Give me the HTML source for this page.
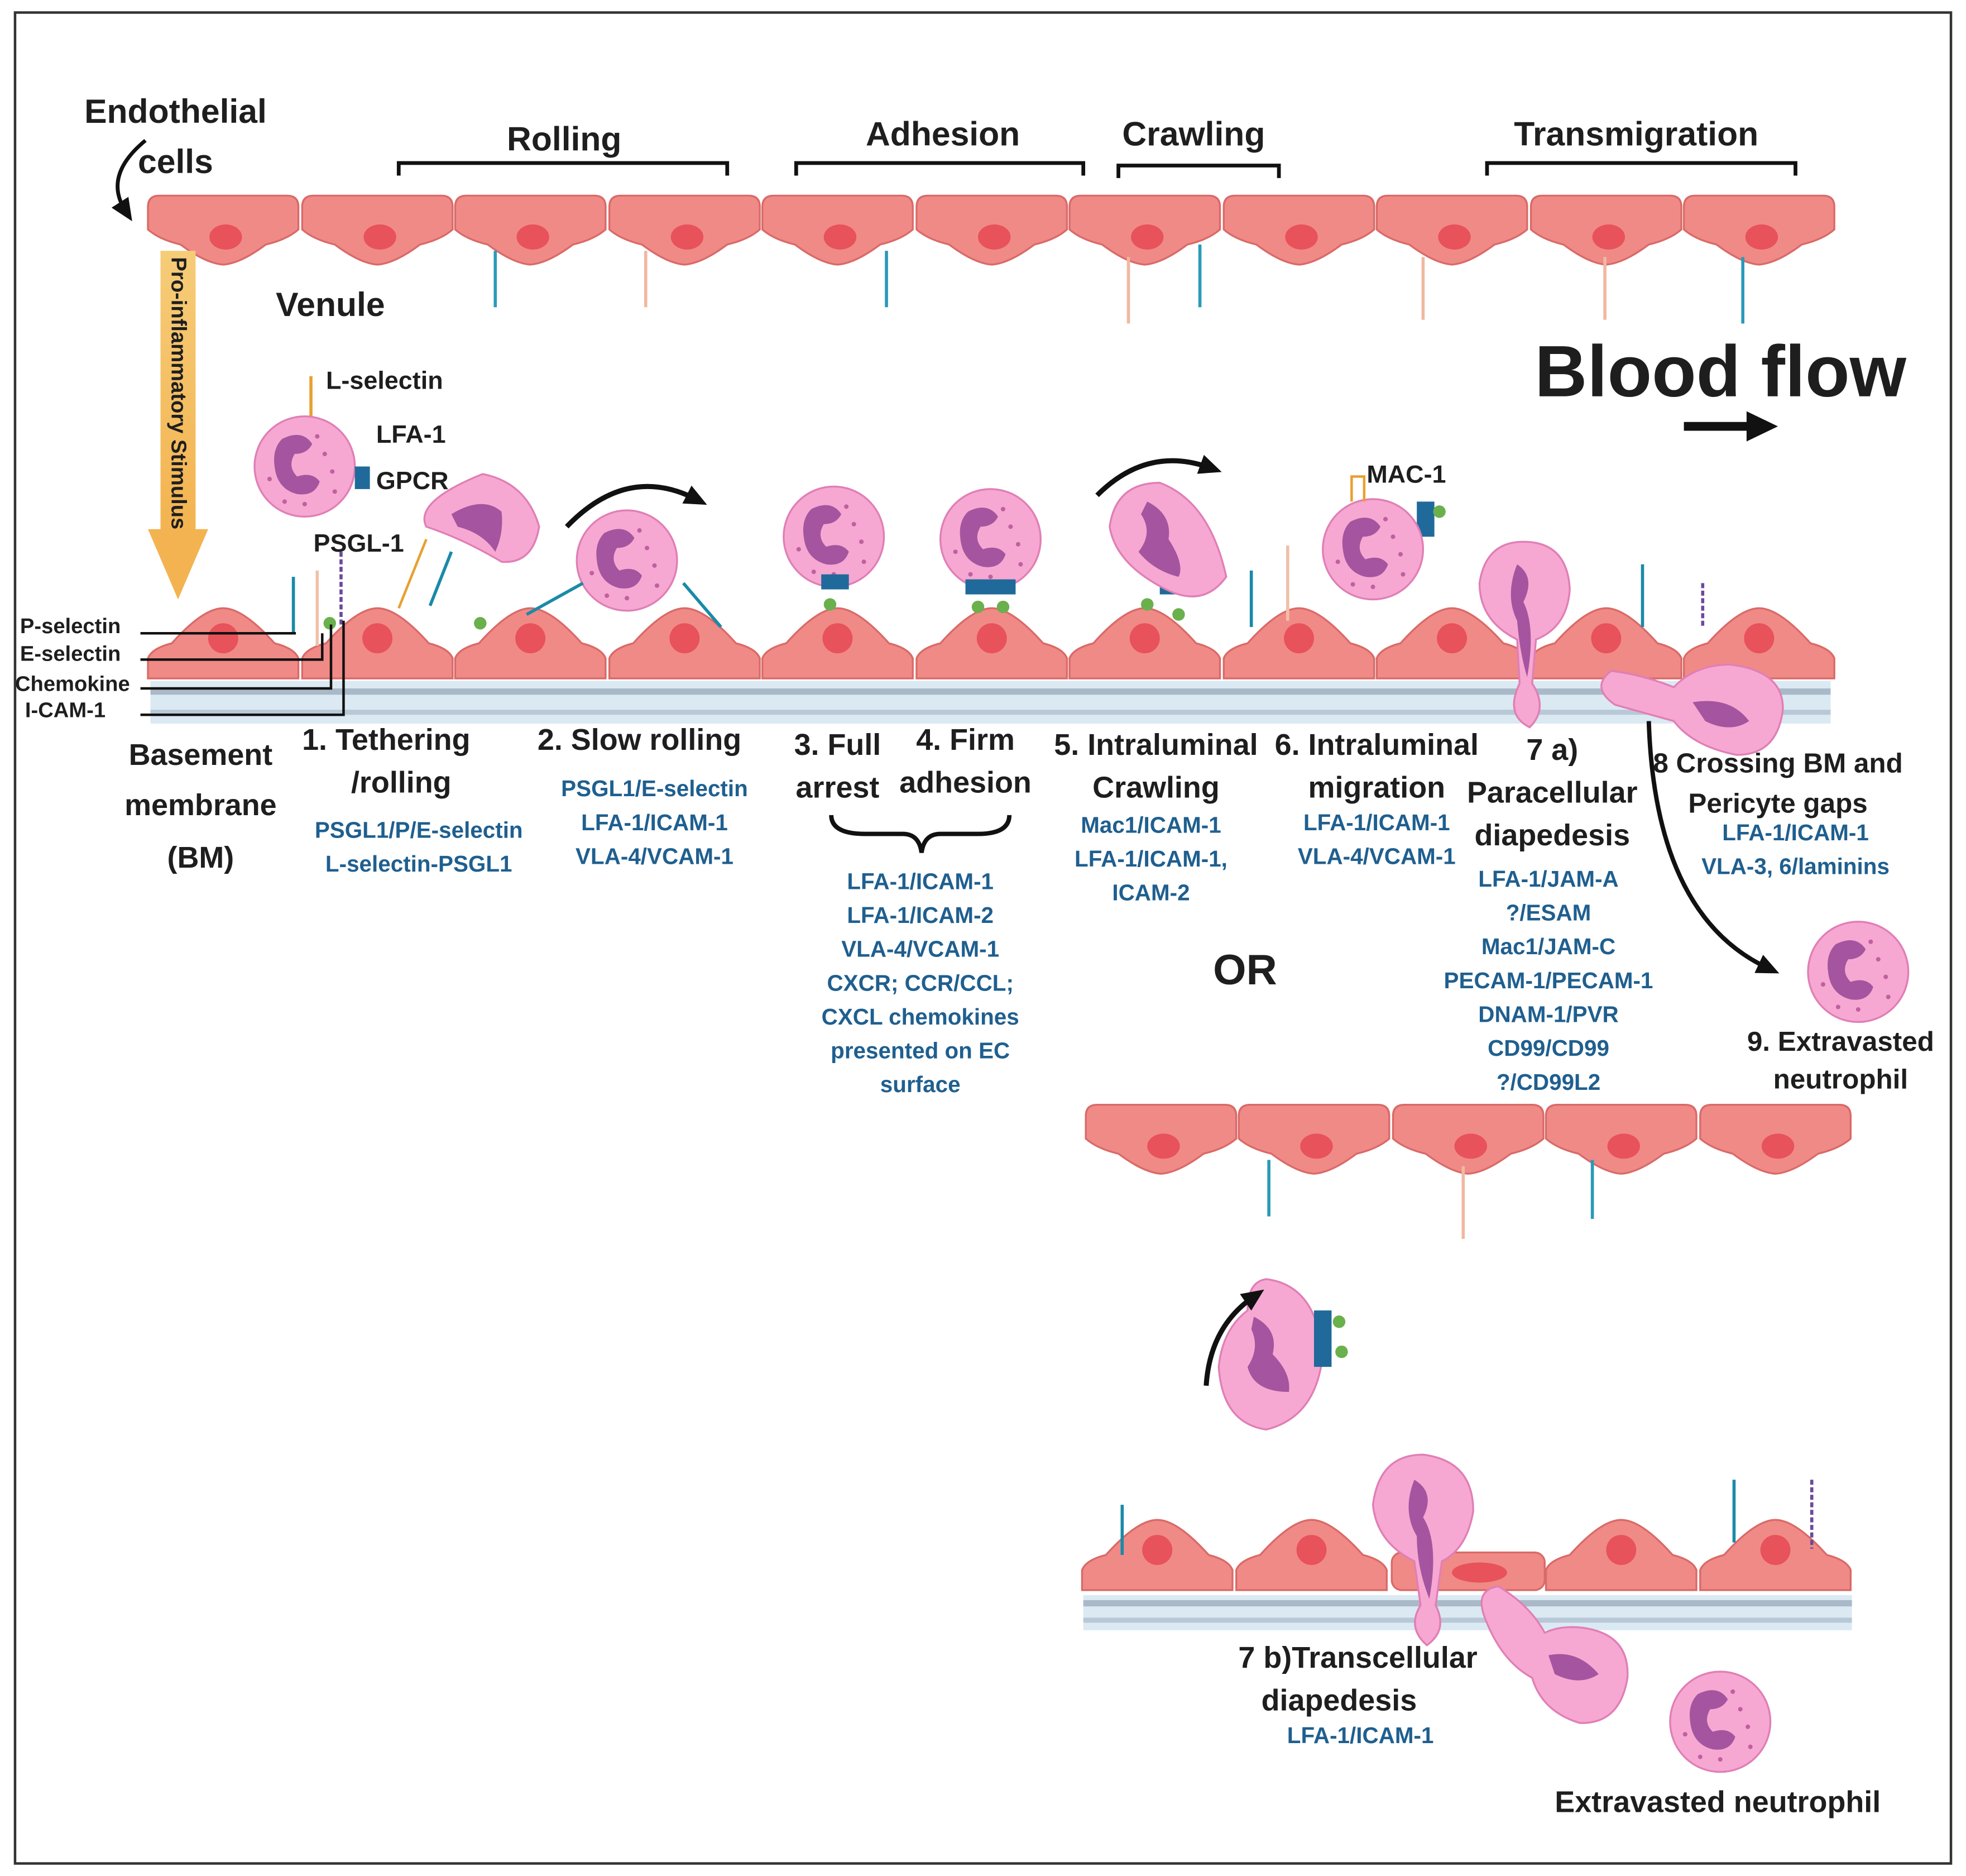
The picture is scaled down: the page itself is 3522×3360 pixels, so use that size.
<!DOCTYPE html>
<html><head><meta charset="utf-8"><style>
html,body{margin:0;padding:0;background:#fff}
svg{display:block}
text{font-family:"Liberation Sans",Arial,sans-serif;font-weight:bold}
.k{fill:#1e1e1e}
.b{fill:#1f5f8f;font-size:18px}
</style></head><body>
<svg width="3522" height="3360" viewBox="0 0 1568 1496" preserveAspectRatio="none" xmlns="http://www.w3.org/2000/svg">
<defs>
<symbol id="tc" overflow="visible">
<path d="M1,10 Q1,1 10,1 H112 Q121,1 121,10 V28 Q112,36 95,40 Q75,55 61,56 Q47,55 27,40 Q10,36 1,28 Z" fill="#f08a87" stroke="#d96a68" stroke-width="1.5"/>
<ellipse cx="63" cy="34" rx="13" ry="10" fill="#e8525a"/>
</symbol>
<symbol id="bc" overflow="visible">
<path d="M1,58 V42 Q4,34 20,30 Q45,2 61,2 Q77,2 102,30 Q118,34 121,42 V58 Z" fill="#f08a87" stroke="#d96a68" stroke-width="1.5"/>
<circle cx="61" cy="26" r="12" fill="#e8525a"/>
</symbol>
<symbol id="ne" overflow="visible">
<circle cx="0" cy="0" r="40" fill="#f6a8d2" stroke="#e07fb5" stroke-width="1.5"/>
<path d="M-18,-22 Q-2,-30 6,-18 Q2,-10 -8,-10 Q-14,0 -6,8 Q6,4 12,12 Q8,24 -6,22 Q-22,18 -24,0 Q-26,-14 -18,-22Z" fill="#a5559f"/>
<g fill="#c0609f"><circle cx="16" cy="-10" r="1.8"/><circle cx="22" cy="4" r="1.8"/><circle cx="10" cy="-24" r="1.8"/><circle cx="-28" cy="10" r="1.8"/><circle cx="0" cy="30" r="1.8"/><circle cx="24" cy="20" r="1.8"/><circle cx="-16" cy="28" r="1.8"/></g>
</symbol>
<marker id="ah" markerUnits="userSpaceOnUse" markerWidth="20" markerHeight="20" refX="8" refY="10" orient="auto"><path d="M0,2 L18,10 L0,18 Z" fill="#111"/></marker>
</defs>

<rect x="12" y="10" width="1544" height="1476" fill="none" stroke="#333" stroke-width="2"/>

<g>
<use href="#tc" x="117" y="155"/><use href="#tc" x="240" y="155"/><use href="#tc" x="362" y="155"/><use href="#tc" x="485" y="155"/><use href="#tc" x="607" y="155"/><use href="#tc" x="730" y="155"/><use href="#tc" x="852" y="155"/><use href="#tc" x="975" y="155"/><use href="#tc" x="1097" y="155"/><use href="#tc" x="1220" y="155"/><use href="#tc" x="1342" y="155"/>
</g>
<g stroke-width="2.5">
<line x1="395" y1="200" x2="395" y2="245" stroke="#2a9ab8"/><line x1="515" y1="200" x2="515" y2="245" stroke="#f0b8a0"/><line x1="707" y1="200" x2="707" y2="245" stroke="#2a9ab8"/><line x1="900" y1="205" x2="900" y2="258" stroke="#f0b8a0"/><line x1="957" y1="195" x2="957" y2="245" stroke="#2a9ab8"/><line x1="1135" y1="205" x2="1135" y2="255" stroke="#f0b8a0"/><line x1="1280" y1="205" x2="1280" y2="255" stroke="#f0b8a0"/><line x1="1390" y1="205" x2="1390" y2="258" stroke="#2a9ab8"/>
</g>

<text x="140" y="98" font-size="27" class="k" text-anchor="middle">Endothelial</text>
<text x="140" y="138" font-size="27" class="k" text-anchor="middle">cells</text>
<path d="M116,112 Q82,140 100,168" fill="none" stroke="#111" stroke-width="3" marker-end="url(#ah)"/>
<text x="450" y="120" font-size="27" class="k" text-anchor="middle">Rolling</text>
<text x="752" y="116" font-size="27" class="k" text-anchor="middle">Adhesion</text>
<text x="952" y="116" font-size="27" class="k" text-anchor="middle">Crawling</text>
<text x="1305" y="116" font-size="27" class="k" text-anchor="middle">Transmigration</text>
<g fill="none" stroke="#111" stroke-width="3">
<path d="M318,140 V130 H580 V140"/><path d="M635,140 V130 H864 V140"/><path d="M892,142 V132 H1020 V142"/><path d="M1186,140 V130 H1432 V140"/>
</g>
<text x="220" y="252" font-size="27" class="k">Venule</text>
<text x="1224" y="316" font-size="58" class="k">Blood flow</text>
<line x1="1343" y1="340" x2="1395" y2="340" stroke="#111" stroke-width="7"/>
<path d="M1393,328 L1418,340 L1393,352Z" fill="#111"/>

<defs><linearGradient id="yg" x1="0" y1="0" x2="0" y2="1"><stop offset="0" stop-color="#f6cc78"/><stop offset="1" stop-color="#f3b350"/></linearGradient></defs>
<rect x="128" y="200" width="28" height="225" fill="url(#yg)"/>
<path d="M118,422 L166,422 L142,478Z" fill="#f3b350"/>
<text transform="translate(137,205) rotate(90)" font-size="17" class="k">Pro-inflammatory Stimulus</text>

<rect x="120" y="543" width="1340" height="34" fill="#dbe9f3"/>
<rect x="120" y="549" width="1340" height="5" fill="#a9b9c8"/>
<rect x="120" y="566" width="1340" height="4" fill="#b8c8d6"/>

<g>
<use href="#bc" x="117" y="483"/><use href="#bc" x="240" y="483"/><use href="#bc" x="362" y="483"/><use href="#bc" x="485" y="483"/><use href="#bc" x="607" y="483"/><use href="#bc" x="730" y="483"/><use href="#bc" x="852" y="483"/><use href="#bc" x="975" y="483"/><use href="#bc" x="1097" y="483"/><use href="#bc" x="1220" y="483"/><use href="#bc" x="1342" y="483"/>
</g>

<g stroke-width="2.5">
<line x1="234" y1="460" x2="234" y2="505" stroke="#1a8aa8"/><line x1="253" y1="455" x2="253" y2="515" stroke="#f0c0a8"/><line x1="272" y1="440" x2="272" y2="500" stroke="#6a4a9a" stroke-dasharray="4 2"/>
<line x1="1310" y1="450" x2="1310" y2="500" stroke="#1a8aa8"/><line x1="1358" y1="465" x2="1358" y2="500" stroke="#6a4a9a" stroke-dasharray="4 2"/>
<line x1="998" y1="455" x2="998" y2="500" stroke="#1a8aa8"/><line x1="1027" y1="435" x2="1027" y2="495" stroke="#f0c0a8"/>
<line x1="248" y1="300" x2="248" y2="345" stroke="#e8a030"/>
</g>
<circle cx="263" cy="497" r="5" fill="#6ab04c"/>
<g stroke="#111" stroke-width="2" fill="none">
<path d="M112,505 H236"/><path d="M112,526 H257 V505"/><path d="M112,549 H264 V498"/><path d="M112,570 H274 V495"/>
</g>
<text x="16" y="505" font-size="17" class="k">P-selectin</text>
<text x="16" y="527" font-size="17" class="k">E-selectin</text>
<text x="12" y="551" font-size="17" class="k">Chemokine</text>
<text x="20" y="572" font-size="17" class="k">I-CAM-1</text>

<use href="#ne" x="243" y="372"/>
<text x="260" y="310" font-size="20" class="k">L-selectin</text>
<text x="300" y="353" font-size="20" class="k">LFA-1</text>
<text x="300" y="390" font-size="20" class="k">GPCR</text>
<text x="250" y="440" font-size="20" class="k">PSGL-1</text>
<rect x="283" y="372" width="12" height="18" fill="#1f6a9a"/>
<path d="M385,378 Q420,385 430,420 Q425,450 400,448 Q370,430 340,420 Q330,400 385,378Z" fill="#f6a8d2" stroke="#e07fb5" stroke-width="1.5"/>
<path d="M360,410 Q385,395 400,408 Q402,425 395,440 Q385,425 365,420Z" fill="#a5559f"/>
<line x1="340" y1="430" x2="318" y2="485" stroke="#e8a030" stroke-width="2"/>
<line x1="360" y1="440" x2="343" y2="483" stroke="#1a8aa8" stroke-width="2.5"/>
<use href="#ne" x="500" y="447"/>
<line x1="465" y1="465" x2="420" y2="490" stroke="#1a8aa8" stroke-width="2.5"/>
<line x1="545" y1="465" x2="575" y2="500" stroke="#1a8aa8" stroke-width="2.5"/>
<path d="M452,420 Q500,370 555,398" fill="none" stroke="#111" stroke-width="4" marker-end="url(#ah)"/>
<circle cx="383" cy="497" r="5" fill="#6ab04c"/>
<use href="#ne" x="665" y="428"/><use href="#ne" x="790" y="430"/>
<g fill="#1f6a9a"><rect x="655" y="458" width="22" height="12"/><rect x="770" y="462" width="40" height="12"/><rect x="925" y="462" width="30" height="12"/><rect x="1130" y="400" width="14" height="28"/></g>
<g fill="#6ab04c"><circle cx="662" cy="482" r="5"/><circle cx="780" cy="484" r="5"/><circle cx="800" cy="484" r="5"/><circle cx="915" cy="482" r="5"/><circle cx="940" cy="490" r="5"/><circle cx="1148" cy="408" r="5"/></g>
<path d="M925,385 Q965,400 978,460 Q960,485 930,470 Q890,450 885,420 Q890,385 925,385Z" fill="#f6a8d2" stroke="#e07fb5" stroke-width="1.5"/>
<path d="M915,400 Q935,410 932,430 Q945,450 940,460 Q920,455 908,440 Q920,425 910,410Z" fill="#a5559f"/>
<path d="M875,395 Q915,355 965,373" fill="none" stroke="#111" stroke-width="4" marker-end="url(#ah)"/>
<use href="#ne" x="1095" y="438"/>
<text x="1090" y="385" font-size="20" class="k">MAC-1</text>
<path d="M1078,400 V380 H1088 V400" fill="none" stroke="#e8a030" stroke-width="2"/>
<path d="M1215,432 Q1250,432 1252,470 Q1250,500 1225,510 L1222,545 Q1235,565 1220,580 Q1200,570 1212,545 L1210,510 Q1180,495 1180,465 Q1185,432 1215,432Z" fill="#f6a8d2" stroke="#e07fb5" stroke-width="1.5"/>
<path d="M1210,450 Q1225,460 1215,480 Q1225,500 1218,540 Q1212,520 1210,495 Q1200,475 1210,450Z" fill="#a5559f"/>
<path d="M1380,530 Q1422,535 1422,565 Q1418,602 1385,602 Q1350,595 1335,575 Q1310,568 1288,562 Q1268,548 1285,535 Q1310,538 1335,548 Q1352,530 1380,530Z" fill="#f6a8d2" stroke="#e07fb5" stroke-width="1.5"/>
<path d="M1350,560 Q1380,555 1395,575 Q1380,585 1360,575Z" fill="#a5559f"/>
<path d="M1315,575 Q1320,730 1410,772" fill="none" stroke="#111" stroke-width="3.5" marker-end="url(#ah)"/>
<use href="#ne" x="1482" y="775"/>

<g font-size="24" class="k">
<text x="160" y="610" text-anchor="middle">Basement</text><text x="160" y="650" text-anchor="middle">membrane</text><text x="160" y="692" text-anchor="middle">(BM)</text>
<text x="308" y="598" text-anchor="middle">1. Tethering</text><text x="320" y="632" text-anchor="middle">/rolling</text>
<text x="510" y="598" text-anchor="middle">2. Slow rolling</text>
<text x="668" y="602" text-anchor="middle">3. Full</text><text x="668" y="636" text-anchor="middle">arrest</text>
<text x="770" y="598" text-anchor="middle">4. Firm</text><text x="770" y="632" text-anchor="middle">adhesion</text>
<text x="922" y="602" text-anchor="middle">5. Intraluminal</text><text x="922" y="636" text-anchor="middle">Crawling</text>
<text x="1098" y="602" text-anchor="middle">6. Intraluminal</text><text x="1098" y="636" text-anchor="middle">migration</text>
<text x="1238" y="606" text-anchor="middle">7 a)</text><text x="1238" y="640" text-anchor="middle">Paracellular</text><text x="1238" y="674" text-anchor="middle">diapedesis</text>
<text x="1418" y="616" text-anchor="middle" font-size="22">8 Crossing BM and</text><text x="1418" y="648" text-anchor="middle" font-size="22">Pericyte gaps</text>
<text x="1468" y="838" text-anchor="middle" font-size="22">9. Extravasted</text><text x="1468" y="868" text-anchor="middle" font-size="22">neutrophil</text>
<text x="993" y="785" text-anchor="middle" font-size="34">OR</text>
<text x="1083" y="1330" text-anchor="middle">7 b)Transcellular</text><text x="1068" y="1364" text-anchor="middle">diapedesis</text>
<text x="1370" y="1445" text-anchor="middle">Extravasted neutrophil</text>
</g>
<path d="M663,650 Q663,665 690,665 H720 Q733,665 735,680 Q737,665 750,665 H780 Q805,665 805,650" fill="none" stroke="#111" stroke-width="3.5"/>
<g class="b" text-anchor="middle">
<text x="334" y="668">PSGL1/P/E-selectin</text><text x="334" y="695">L-selectin-PSGL1</text>
<text x="522" y="635">PSGL1/E-selectin</text><text x="522" y="662">LFA-1/ICAM-1</text><text x="522" y="689">VLA-4/VCAM-1</text>
<text x="734" y="709">LFA-1/ICAM-1</text><text x="734" y="736">LFA-1/ICAM-2</text><text x="734" y="763">VLA-4/VCAM-1</text><text x="734" y="790">CXCR; CCR/CCL;</text><text x="734" y="817">CXCL chemokines</text><text x="734" y="844">presented on EC</text><text x="734" y="871">surface</text>
<text x="918" y="664">Mac1/ICAM-1</text><text x="918" y="691">LFA-1/ICAM-1,</text><text x="918" y="718">ICAM-2</text>
<text x="1098" y="662">LFA-1/ICAM-1</text><text x="1098" y="689">VLA-4/VCAM-1</text>
<text x="1235" y="707">LFA-1/JAM-A</text><text x="1235" y="734">?/ESAM</text><text x="1235" y="761">Mac1/JAM-C</text><text x="1235" y="788">PECAM-1/PECAM-1</text><text x="1235" y="815">DNAM-1/PVR</text><text x="1235" y="842">CD99/CD99</text><text x="1235" y="869">?/CD99L2</text>
<text x="1432" y="670">LFA-1/ICAM-1</text><text x="1432" y="697">VLA-3, 6/laminins</text>
<text x="1085" y="1390">LFA-1/ICAM-1</text>
</g>

<g><use href="#tc" x="865" y="880"/><use href="#tc" x="987" y="880"/><use href="#tc" x="1110" y="880"/><use href="#tc" x="1232" y="880"/><use href="#tc" x="1355" y="880"/></g>
<g stroke-width="2.5"><line x1="1012" y1="925" x2="1012" y2="970" stroke="#2a9ab8"/><line x1="1167" y1="930" x2="1167" y2="988" stroke="#f0b8a0"/><line x1="1270" y1="925" x2="1270" y2="972" stroke="#2a9ab8"/></g>

<path d="M1010,1020 Q1050,1025 1055,1080 Q1050,1130 1010,1140 Q975,1135 972,1090 Q975,1060 995,1045 Q995,1022 1010,1020Z" fill="#f6a8d2" stroke="#e07fb5" stroke-width="1.5"/>
<path d="M1000,1050 Q1020,1060 1015,1080 Q1030,1095 1028,1110 Q1000,1110 995,1090 Q1005,1075 998,1060Z" fill="#a5559f"/>
<rect x="1048" y="1045" width="14" height="45" fill="#1f6a9a"/>
<circle cx="1068" cy="1054" r="5" fill="#6ab04c"/><circle cx="1070" cy="1078" r="5" fill="#6ab04c"/>
<path d="M962,1105 Q965,1058 1000,1034" fill="none" stroke="#111" stroke-width="4" marker-end="url(#ah)"/>

<rect x="864" y="1272" width="613" height="28" fill="#dbe9f3"/>
<rect x="864" y="1276" width="613" height="5" fill="#a9b9c8"/>
<rect x="864" y="1290" width="613" height="4" fill="#b8c8d6"/>
<g><use href="#bc" x="862" y="1210"/><use href="#bc" x="985" y="1210"/><use href="#bc" x="1232" y="1210"/><use href="#bc" x="1355" y="1210"/></g>
<rect x="1110" y="1238" width="122" height="30" rx="8" fill="#f08a87" stroke="#d96a68" stroke-width="1.5"/>
<ellipse cx="1180" cy="1254" rx="22" ry="8" fill="#e8525a"/>
<g stroke-width="2.5"><line x1="895" y1="1200" x2="895" y2="1240" stroke="#1a8aa8"/><line x1="1383" y1="1180" x2="1383" y2="1230" stroke="#1a8aa8"/><line x1="1445" y1="1180" x2="1445" y2="1235" stroke="#6a4a9a" stroke-dasharray="4 2"/></g>
<path d="M1135,1160 Q1175,1165 1175,1205 Q1170,1235 1150,1245 L1145,1280 Q1155,1300 1138,1312 Q1122,1298 1133,1280 L1128,1245 Q1098,1230 1095,1200 Q1100,1160 1135,1160Z" fill="#f6a8d2" stroke="#e07fb5" stroke-width="1.5"/>
<path d="M1128,1180 Q1145,1190 1135,1210 Q1148,1230 1140,1275 Q1130,1250 1130,1225 Q1118,1205 1128,1180Z" fill="#a5559f"/>
<path d="M1262,1298 Q1300,1303 1298,1338 Q1292,1375 1260,1374 Q1230,1365 1222,1338 Q1198,1325 1185,1292 Q1175,1268 1195,1265 Q1220,1280 1232,1302 Q1245,1296 1262,1298Z" fill="#f6a8d2" stroke="#e07fb5" stroke-width="1.5"/>
<path d="M1235,1320 Q1258,1315 1275,1335 Q1260,1345 1240,1335Z" fill="#a5559f"/>
<use href="#ne" x="1372" y="1373"/>
</svg>
</body></html>
